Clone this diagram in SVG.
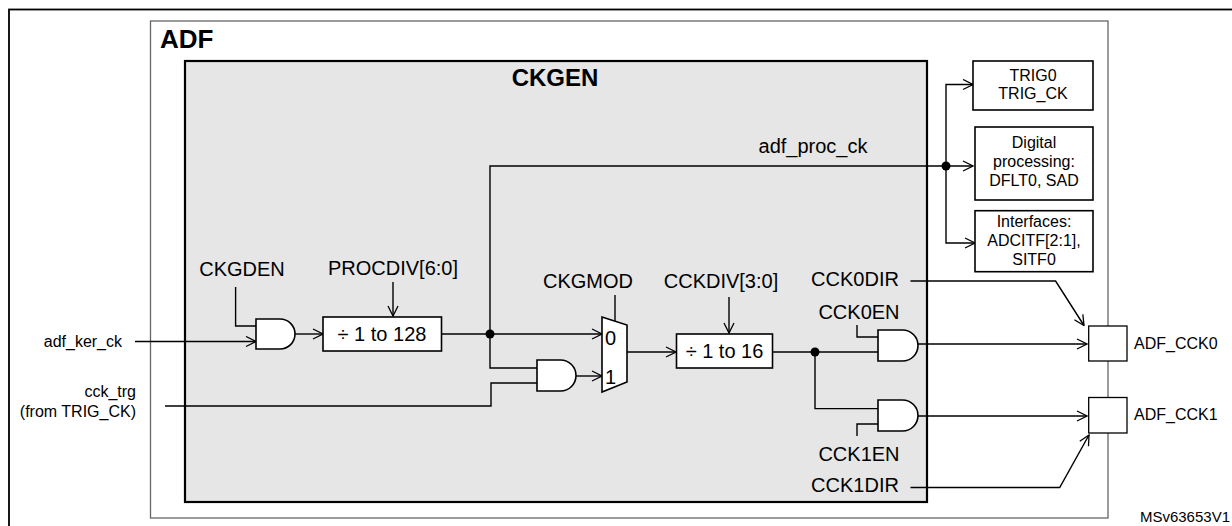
<svg xmlns="http://www.w3.org/2000/svg" width="1232" height="526" viewBox="0 0 1232 526">
<defs>
<marker id="ar" markerWidth="12" markerHeight="12" refX="11" refY="6" orient="auto" markerUnits="userSpaceOnUse">
<path d="M1,1 L11,6 L1,11" fill="none" stroke="#000" stroke-width="1.3"/>
</marker>
</defs>
<style>
text{font-family:"Liberation Sans",Arial,sans-serif;fill:#000}
.l{font-size:20px}
.s{font-size:16px}
.b{font-weight:bold;font-size:24px}
.w{fill:none;stroke:#000;stroke-width:1.4}
.a{marker-end:url(#ar)}
.g{fill:#fff;stroke:#000;stroke-width:1.6}
</style>
<rect width="1232" height="526" fill="#fff"/>
<rect x="9" y="9.5" width="1240" height="540" fill="none" stroke="#000" stroke-width="1.8"/>
<g id="adf">
<rect x="150.5" y="21" width="957.5" height="497" fill="#fff" stroke="#666" stroke-width="1.3"/>
<text x="160" y="48" class="b" style="font-size:26px">ADF</text>
</g>
<g id="ckgen">
<rect x="185" y="61" width="742" height="441" fill="#e6e6e6" stroke="#000" stroke-width="2.2"/>
<text x="555" y="86" class="b" text-anchor="middle">CKGEN</text>
</g>
<g id="texts">
<text x="122" y="347" class="s" text-anchor="end">adf_ker_ck</text>
<text x="136" y="397" class="s" text-anchor="end">cck_trg</text>
<text x="136" y="417" class="s" text-anchor="end">(from TRIG_CK)</text>
<text x="242" y="276" class="l" text-anchor="middle">CKGDEN</text>
<text x="393" y="275" class="l" text-anchor="middle">PROCDIV[6:0]</text>
<text x="588" y="288" class="l" text-anchor="middle">CKGMOD</text>
<text x="721" y="288" class="l" text-anchor="middle">CCKDIV[3:0]</text>
<text x="855" y="286" class="l" text-anchor="middle">CCK0DIR</text>
<text x="859" y="319" class="l" text-anchor="middle">CCK0EN</text>
<text x="859" y="461" class="l" text-anchor="middle">CCK1EN</text>
<text x="855" y="492" class="l" text-anchor="middle">CCK1DIR</text>
<text x="813" y="153" class="l" text-anchor="middle">adf_proc_ck</text>
<text x="1134" y="349" class="s">ADF_CCK0</text>
<text x="1134" y="420" class="s">ADF_CCK1</text>
<text x="1230" y="522" class="s" text-anchor="end" style="font-size:15px">MSv63653V1</text>
</g>
<g id="connectors">
<path class="w a" d="M135,341.5 H256"/>
<path class="w" d="M235.6,287 V326 H256"/>
<path class="w a" d="M295,334 H323"/>
<path class="w a" d="M393,282 V316"/>
<path class="w a" d="M441.5,334 H602"/>
<path class="w a" d="M490,334 V166 H973"/>
<path class="w" d="M490,334 V368 H537"/>
<path class="w" d="M165,406 H491 V383 H537"/>
<path class="w a" d="M576,376 H602"/>
<path class="w" d="M615,295 V321"/>
<path class="w a" d="M627,352 H676"/>
<path class="w a" d="M729,297 V333"/>
<path class="w" d="M772.5,352 H878"/>
<path class="w" d="M815,352 V408.6 H878"/>
<path class="w" d="M857,325 V337 H878"/>
<path class="w" d="M857,436 V424 H878"/>
<path class="w a" d="M918,344 H1087"/>
<path class="w a" d="M918,416 H1087"/>
<path class="w a" d="M910.5,281 H1055.6 L1084,325.5"/>
<path class="w a" d="M910.5,487.5 H1059.7 L1089,435"/>
<path class="w a" d="M946,166 V84.5 H973"/>
<path class="w a" d="M946,166 V243 H975"/>
<circle cx="490" cy="334" r="4.5"/>
<circle cx="946" cy="166" r="4.5"/>
<circle cx="815" cy="352" r="4.5"/>
</g>
<g id="gate1"><path class="g" d="M256,319 H280 A15,15 0 0 1 280,349 H256 Z"/></g>
<g id="gate2"><path class="g" d="M537,360 H560.5 A15.5,15.5 0 0 1 560.5,391 H537 Z"/></g>
<g id="gate3"><path class="g" d="M878,330 H902.5 A15.5,15.5 0 0 1 902.5,361 H878 Z"/></g>
<g id="gate4"><path class="g" d="M878,400 H902.5 A15.5,15.5 0 0 1 902.5,431 H878 Z"/></g>
<g id="mux">
<polygon class="g" points="602,317 627,325 627,382 602,392"/>
<text x="605" y="345" class="l">0</text>
<text x="605" y="384" class="l">1</text>
</g>
<g id="procdiv">
<rect class="g" x="323" y="317" width="118.5" height="34"/>
<text x="382" y="341" class="l" text-anchor="middle">÷ 1 to 128</text>
</g>
<g id="cckdiv">
<rect class="g" x="676.5" y="334" width="96" height="34"/>
<text x="724.5" y="358" class="l" text-anchor="middle">÷ 1 to 16</text>
</g>
<g id="trig">
<rect class="g" x="973" y="61" width="120" height="49"/>
<text x="1033" y="80.5" class="s" text-anchor="middle">TRIG0</text>
<text x="1033" y="99" class="s" text-anchor="middle">TRIG_CK</text>
</g>
<g id="digital">
<rect class="g" x="975" y="127" width="118" height="73"/>
<text x="1034" y="147.5" class="s" text-anchor="middle">Digital</text>
<text x="1034" y="166.5" class="s" text-anchor="middle">processing:</text>
<text x="1034" y="185.5" class="s" text-anchor="middle">DFLT0, SAD</text>
</g>
<g id="interfaces">
<rect class="g" x="975" y="210.7" width="118" height="61"/>
<text x="1034" y="226.5" class="s" text-anchor="middle">Interfaces:</text>
<text x="1034" y="245.5" class="s" text-anchor="middle">ADCITF[2:1],</text>
<text x="1034" y="265" class="s" text-anchor="middle">SITF0</text>
</g>
<g id="pad0"><rect x="1088.7" y="326" width="38.3" height="35" fill="#fff" stroke="#000" stroke-width="1.3"/></g>
<g id="pad1"><rect x="1088.7" y="397.5" width="38.3" height="35.5" fill="#fff" stroke="#000" stroke-width="1.3"/></g>
</svg>
